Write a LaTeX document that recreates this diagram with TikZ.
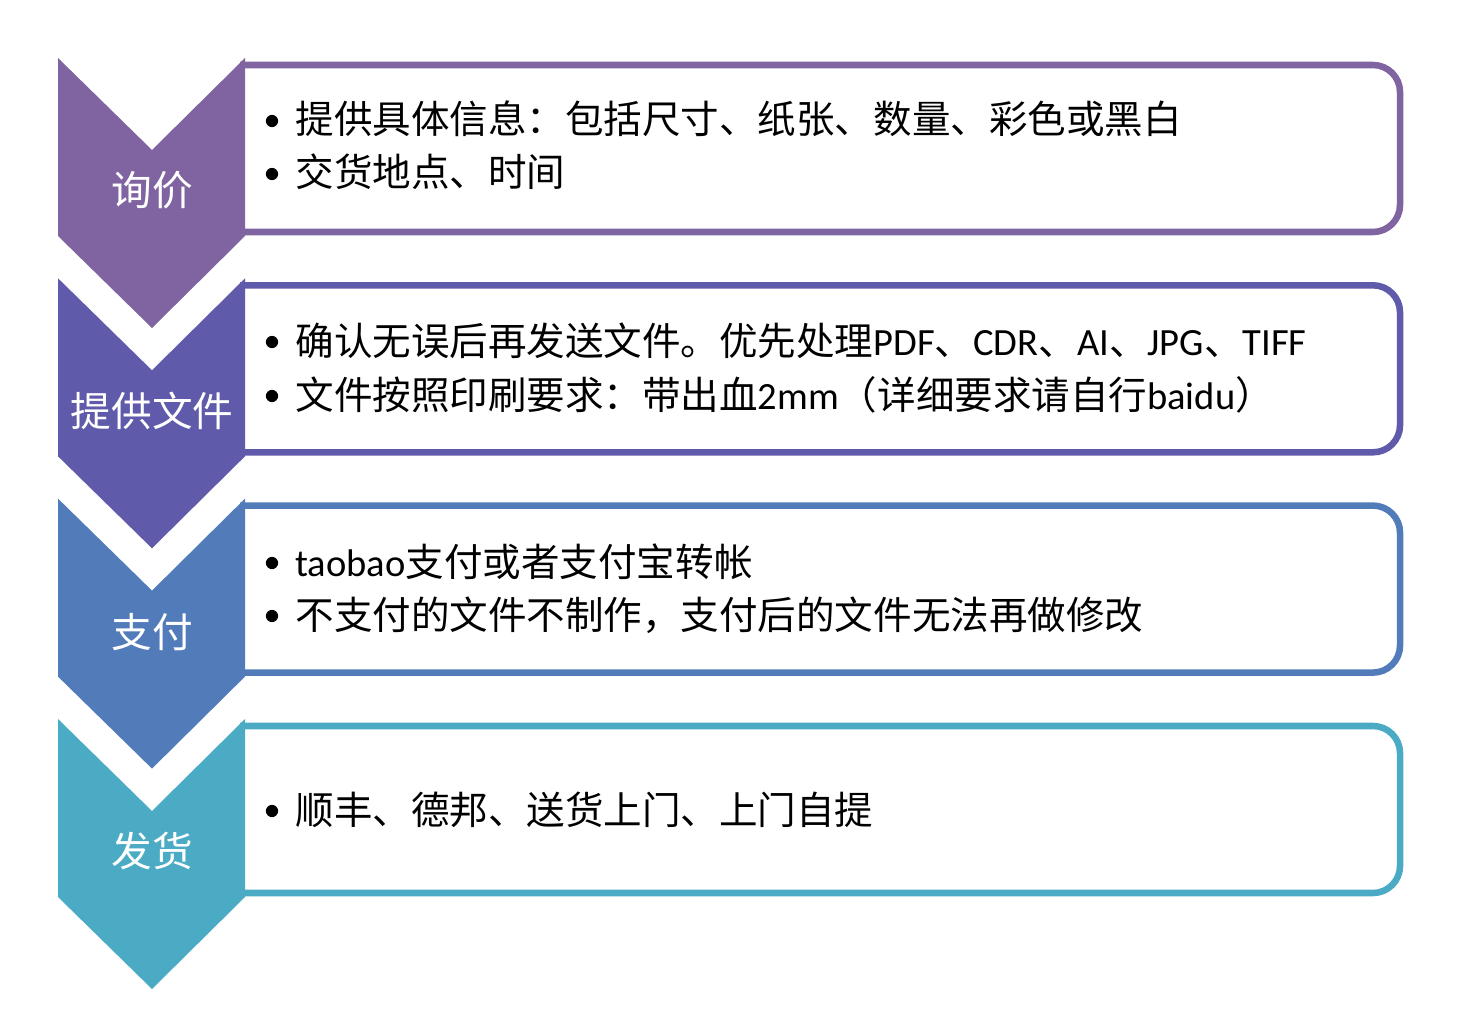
\documentclass[tikz,border=0pt]{standalone}
\usepackage{fontspec}
\setmainfont{Noto Sans CJK SC}
\newfontfamily\lat{Carlito}

\definecolor{xunjiaC}{RGB}{128,100,162}
\definecolor{tigongC}{RGB}{95,90,170}
\definecolor{zhifuC}{RGB}{81,124,185}
\definecolor{fahuoC}{RGB}{75,171,197}

\tikzset{every picture/.style={line width=0.75pt}}
\tikzset{
  stepframe/.style={line width=4.9pt, rounded corners=20.25pt},
  steplabel/.style={text=white, inner sep=0.75pt, font=\fontsize{30.5}{36}\selectfont},
  stepitem/.style={anchor=base west, inner sep=0pt, font=\fontsize{28.9}{34}\selectfont},
}

\begin{document}
\begin{tikzpicture}[x=0.75pt,y=0.75pt,yscale=-1,xscale=1]
\useasboundingbox (0,0) rectangle (1474,1020);

%Shape: Rounded Rect [询价]
\draw [stepframe, draw=xunjiaC] (240,65) -- (1400,65) -- (1400,232) -- (240,232) ;
%Shape: Chevron [询价]
\fill [xunjiaC] (58,58) -- (152,150) -- (245,58) -- (245,236) -- (152,328) -- (58,236) -- cycle ;

%Shape: Rounded Rect [提供文件]
\draw [stepframe, draw=tigongC] (240,285.3) -- (1400,285.3) -- (1400,452.3) -- (240,452.3) ;
%Shape: Chevron [提供文件]
\fill [tigongC] (58,278.3) -- (152,370.3) -- (245,278.3) -- (245,456.3) -- (152,548.3) -- (58,456.3) -- cycle ;

%Shape: Rounded Rect [支付]
\draw [stepframe, draw=zhifuC] (240,505.6) -- (1400,505.6) -- (1400,672.6) -- (240,672.6) ;
%Shape: Chevron [支付]
\fill [zhifuC] (58,498.6) -- (152,590.6) -- (245,498.6) -- (245,676.6) -- (152,768.6) -- (58,676.6) -- cycle ;

%Shape: Rounded Rect [发货]
\draw [stepframe, draw=fahuoC] (240,726) -- (1400,726) -- (1400,893) -- (240,893) ;
%Shape: Chevron [发货]
\fill [fahuoC] (58,719) -- (152,811) -- (245,719) -- (245,897) -- (152,989) -- (58,897) -- cycle ;

%Shape: Bullets
\fill (272,121) circle [radius=4.6pt] ;
\fill (272,174) circle [radius=4.6pt] ;
\fill (272,342) circle [radius=4.6pt] ;
\fill (272,396) circle [radius=4.6pt] ;
\fill (272,563) circle [radius=4.6pt] ;
\fill (272,616) circle [radius=4.6pt] ;
\fill (272,811) circle [radius=4.6pt] ;

% Text Node
\node [steplabel] (xunjia) at (152,190) {询价};
% Text Node
\node [steplabel] (tigong) at (152,411) {提供文件};
% Text Node
\node [steplabel] (zhifu) at (152,632) {支付};
% Text Node
\node [steplabel] (fahuo) at (152,851) {发货};

% Text Node
\node [stepitem] (xunjia1) at (295,134) {提供具体信息：包括尺寸、纸张、数量、彩色或黑白};
% Text Node
\node [stepitem] (xunjia2) at (295,187) {交货地点、时间};
% Text Node
\node [stepitem] (tigong1) at (295,355) {确认无误后再发送文件。优先处理{\lat PDF}、{\lat CDR}、{\lat AI}、{\lat JPG}、{\lat TIFF}};
% Text Node
\node [stepitem] (tigong2) at (295,409) {文件按照印刷要求：带出血{\lat 2mm}（详细要求请自行{\lat baidu}）};
% Text Node
\node [stepitem] (zhifu1) at (295,576) {{\lat taobao}支付或者支付宝转帐};
% Text Node
\node [stepitem] (zhifu2) at (295,629) {不支付的文件不制作，支付后的文件无法再做修改};
% Text Node
\node [stepitem] (fahuo1) at (295,824) {顺丰、德邦、送货上门、上门自提};

\end{tikzpicture}
\end{document}
